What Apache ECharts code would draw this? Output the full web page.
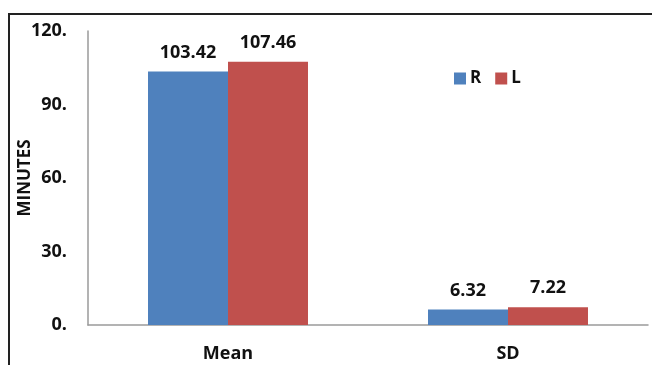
<!DOCTYPE html>
<html>
<head>
<meta charset="utf-8">
<script src="https://cdn.jsdelivr.net/npm/echarts@6/dist/echarts.min.js"></script>
<style>
  html, body { margin: 0; padding: 0; background: #fff; }
  #frame { position: absolute; left: 8px; top: 13px; width: 660px; height: 370px;
           border-left: 2px solid #222; border-top: 2px solid #222; box-sizing: border-box; }
  #chart { position: absolute; left: 0; top: 0; width: 652px; height: 365px; }
</style>
</head>
<body>
<div id="frame"></div>
<div id="chart"></div>
<script>
// Durations by statistic, in minutes
const categories = ['Mean', 'SD'];
const seriesNames = ['R', 'L'];
const valuesR = [103.42, 6.32];
const valuesL = [107.46, 7.22];
const yTicks = [0, 30, 60, 90, 120];

const font = '"Open Sans", "Noto Sans", "Liberation Sans", sans-serif';

const chart = echarts.init(document.getElementById('chart'), null, { renderer: 'canvas' });

const labelStyle = {
  show: true,
  position: 'top',
  distance: 10,
  fontFamily: font,
  fontWeight: 'bold',
  fontSize: 18,
  color: '#111',
  formatter: p => p.value.toFixed(2)
};

chart.setOption({
  animation: false,
  grid: { left: 88, top: 31, right: 4, bottom: 40, containLabel: false, outerBoundsMode: 'none' },
  legend: {
    data: seriesNames,
    left: 449, top: 65,
    itemWidth: 12, itemHeight: 12, itemGap: 14,
    icon: 'rect',
    textStyle: { fontFamily: font, fontWeight: 'bold', fontSize: 17, color: '#111', padding: [0, 0, 0, -1] }
  },
  xAxis: {
    type: 'category',
    data: categories,
    axisLine: { lineStyle: { color: '#9a9a9a', width: 1.5 } },
    axisTick: { show: false },
    axisLabel: { fontFamily: font, fontWeight: 'bold', fontSize: 18, color: '#111', margin: 20 }
  },
  yAxis: {
    type: 'value',
    min: yTicks[0], max: yTicks[yTicks.length - 1], interval: 30,
    name: 'MINUTES',
    nameLocation: 'middle',
    nameGap: 54,
    nameMoveOverlap: false,
    nameRotate: 90,
    nameTextStyle: { fontFamily: font, fontWeight: 'bold', fontSize: 17, color: '#111' },
    axisLine: { show: true, lineStyle: { color: '#9a9a9a', width: 1.5 } },
    axisTick: { show: false },
    splitLine: { show: false },
    axisLabel: {
      fontFamily: font, fontWeight: 'bold', fontSize: 18, color: '#111', margin: 21,
      formatter: v => v + '.'
    }
  },
  series: [
    {
      name: seriesNames[0], type: 'bar', data: valuesR,
      barGap: '0%', barCategoryGap: '42.86%',
      itemStyle: { color: '#4F81BD' },
      label: labelStyle
    },
    {
      name: seriesNames[1], type: 'bar', data: valuesL,
      itemStyle: { color: '#C0504D' },
      label: labelStyle
    }
  ]
});
</script>
</body>
</html>
